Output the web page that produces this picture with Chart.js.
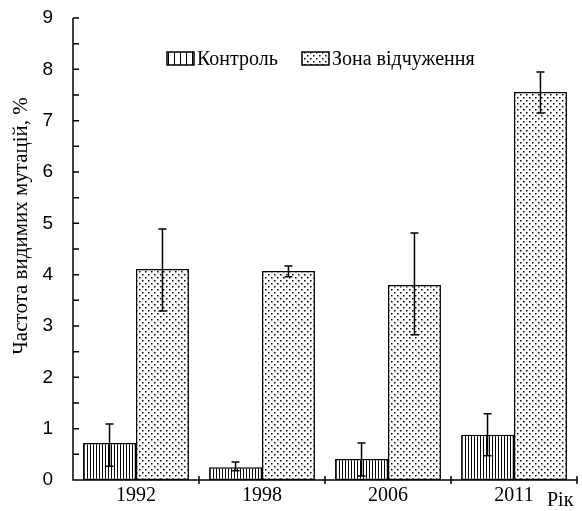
<!DOCTYPE html>
<html><head><meta charset="utf-8">
<script src="https://cdn.jsdelivr.net/npm/chart.js@4"></script>
<style>html,body{margin:0;padding:0;background:#fff}#wrap{width:582px;height:511px}</style>
</head><body><div id="wrap"><canvas id="c" width="582" height="511"></canvas></div>
<script>
const years = ['1992', '1998', '2006', '2011'];
const seriesNames = ['Контроль', 'Зона відчуження'];
const controlValues = [0.72, 0.25, 0.41, 0.88];
const controlErrLow = [0.27, 0.18, 0.08, 0.47];
const controlErrHigh = [1.09, 0.35, 0.72, 1.29];
const zoneValues = [4.11, 4.07, 3.80, 7.56];
const zoneErrLow = [3.29, 3.96, 2.83, 7.15];
const zoneErrHigh = [4.89, 4.17, 4.81, 7.95];
const yTicks = [0, 1, 2, 3, 4, 5, 6, 7, 8, 9];
const yTitle = 'Частота видимих мутацій, %';
const xTitle = 'Рік';

function hatchPattern(step) {
  const c = document.createElement('canvas');
  c.width = step; c.height = 8;
  const g = c.getContext('2d');
  g.fillStyle = '#fff'; g.fillRect(0, 0, step, 8);
  g.fillStyle = '#000'; g.fillRect(0, 0, 1, 8);
  return g.createPattern(c, 'repeat');
}
function dotPattern() {
  const c = document.createElement('canvas');
  c.width = 6; c.height = 6;
  const g = c.getContext('2d');
  g.fillStyle = '#fff'; g.fillRect(0, 0, 6, 6);
  g.fillStyle = '#000';
  g.fillRect(1, 1, 1.5, 1.5);
  g.fillRect(4, 4, 1.5, 1.5);
  return g.createPattern(c, 'repeat');
}
const hatch = hatchPattern(3);
const hatchLegend = hatchPattern(6);
const dots = dotPattern();

const errs = [[controlErrLow, controlErrHigh], [zoneErrLow, zoneErrHigh]];

const decor = {
  id: 'decor',
  afterDatasetsDraw(chart) {
    const ctx = chart.ctx;
    const x = chart.scales.x, y = chart.scales.y;
    ctx.save();
    ctx.strokeStyle = '#000';
    ctx.lineWidth = 1.5;
    chart.data.datasets.forEach((ds, di) => {
      const meta = chart.getDatasetMeta(di);
      meta.data.forEach((bar, i) => {
        const lo = y.getPixelForValue(errs[di][0][i]);
        const hi = y.getPixelForValue(errs[di][1][i]);
        const bx = bar.x;
        ctx.beginPath();
        ctx.moveTo(bx, lo); ctx.lineTo(bx, hi);
        ctx.moveTo(bx - 4, lo); ctx.lineTo(bx + 4, lo);
        ctx.moveTo(bx - 4, hi); ctx.lineTo(bx + 4, hi);
        ctx.stroke();
      });
    });
    const left = chart.chartArea.left, bottom = chart.chartArea.bottom;
    ctx.beginPath();
    ctx.moveTo(left, y.getPixelForValue(9)); ctx.lineTo(left, bottom);
    ctx.lineTo(chart.chartArea.right, bottom);
    ctx.stroke();
    ctx.beginPath();
    for (let v = 0.5; v <= 9; v += 0.5) {
      const py = y.getPixelForValue(v);
      ctx.moveTo(left, py); ctx.lineTo(left + 6, py);
    }
    ctx.stroke();
    ctx.beginPath();
    const half = (x.getPixelForValue(1) - x.getPixelForValue(0)) / 2;
    for (let i = 0; i < years.length; i++) {
      const px = x.getPixelForValue(i) + half;
      ctx.moveTo(px, bottom - 4); ctx.lineTo(px, bottom + 4);
    }
    ctx.stroke();
    const items = [[167, hatchLegend, 197], [302, dots, 332]];
    items.forEach((it, k) => {
      ctx.fillStyle = it[1];
      ctx.fillRect(it[0], 52, 27, 13);
      ctx.lineWidth = 1.5;
      ctx.strokeRect(it[0], 52, 27, 13);
      ctx.fillStyle = '#000';
      ctx.font = '20px "Liberation Serif"';
      ctx.textBaseline = 'alphabetic';
      ctx.textAlign = 'left';
      ctx.fillText(seriesNames[k], it[2], 65);
    });
    ctx.font = '20px "Liberation Serif"';
    ctx.fillText(xTitle, 547, 506);
    ctx.save();
    ctx.translate(27, 226);
    ctx.rotate(-Math.PI / 2);
    ctx.textAlign = 'center';
    ctx.font = '21px "Liberation Serif"';
    ctx.fillText(yTitle, 0, 0);
    ctx.restore();
    ctx.restore();
  }
};

new Chart(document.getElementById('c'), {
  type: 'bar',
  data: {
    labels: years,
    datasets: [
      { label: seriesNames[0], data: controlValues, backgroundColor: hatch, borderColor: '#000', borderWidth: 1.5, borderSkipped: false },
      { label: seriesNames[1], data: zoneValues, backgroundColor: dots, borderColor: '#000', borderWidth: 1.5, borderSkipped: false }
    ]
  },
  options: {
    responsive: false,
    animation: false,
    devicePixelRatio: 1,
    layout: { padding: { top: 18, right: 5, left: 0, bottom: 0 } },
    plugins: { legend: { display: false }, tooltip: { enabled: false } },
    datasets: { bar: { categoryPercentage: 0.84, barPercentage: 1 } },
    scales: {
      x: {
        grid: { display: false, drawTicks: false },
        border: { display: false },
        ticks: { color: '#000', font: { family: 'Liberation Serif', size: 20 }, padding: 4 },
        afterFit(s) { s.height = 31; s.paddingLeft = 0; s.paddingRight = 0; }
      },
      y: {
        min: 0, max: 9,
        afterBuildTicks(s) { s.ticks = yTicks.map(v => ({ value: v })); },
        grid: { display: false, drawTicks: false },
        border: { display: false },
        ticks: { color: '#000', font: { family: 'Liberation Sans', size: 19 }, padding: 20 },
        afterFit(s) { s.width = 73; s.paddingTop = 0; s.paddingBottom = 0; }
      }
    }
  },
  plugins: [decor]
});
</script></body></html>
